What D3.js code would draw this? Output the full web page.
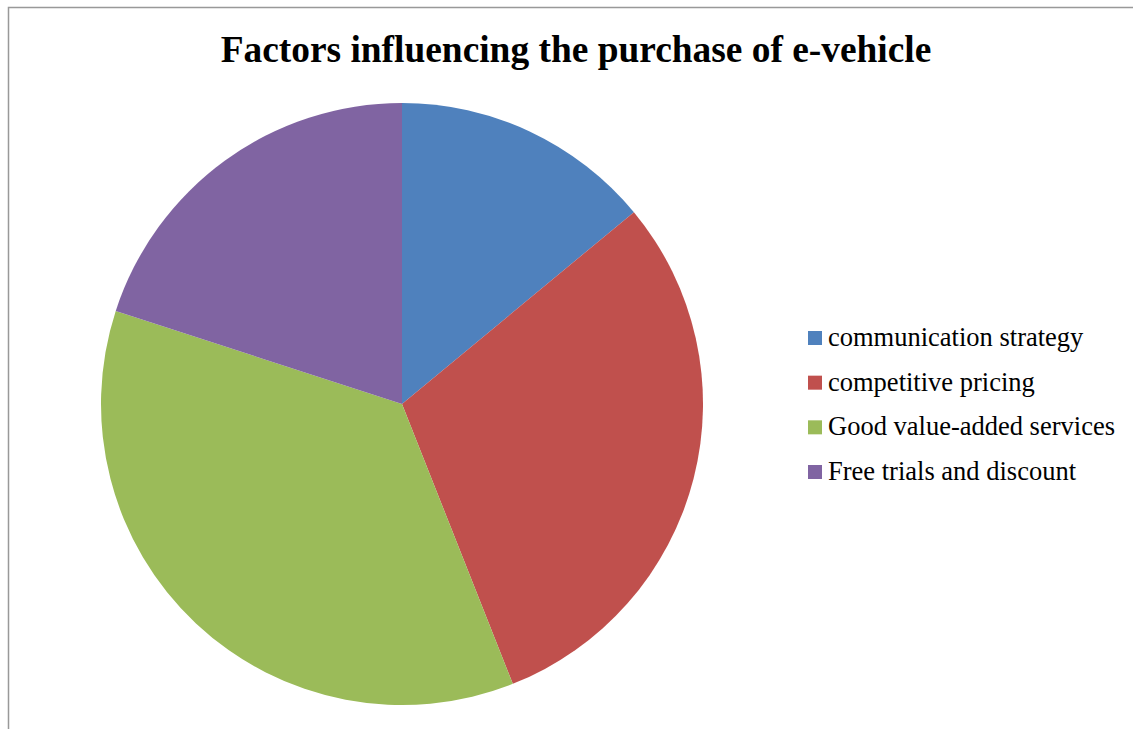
<!DOCTYPE html>
<html>
<head>
<meta charset="utf-8">
<script src="https://cdn.jsdelivr.net/npm/d3@7"></script>
<style>
  html, body { margin: 0; padding: 0; background: #fff; }
  svg { display: block; }
</style>
</head>
<body>
<svg id="chart" width="1133" height="729"></svg>
<script>
// Survey shares (percent) of each purchase factor
const categories = ["communication strategy", "competitive pricing", "Good value-added services", "Free trials and discount"];
const shares = [14, 30, 36, 20];
const colors = ["#4F81BD", "#C0504D", "#9BBB59", "#8064A2"];
const title = "Factors influencing the purchase of e-vehicle";

const svg = d3.select("#chart");
const W = 1133, H = 729;

// chart area frame
svg.append("path")
  .attr("d", `M8.5,${H} L8.5,7.5 L${W},7.5`)
  .attr("fill", "none")
  .attr("stroke", "#999")
  .attr("stroke-width", 1.5);

svg.append("text")
  .attr("x", 576)
  .attr("y", 62)
  .attr("text-anchor", "middle")
  .attr("font-family", "'Liberation Serif', 'Times New Roman', serif")
  .attr("font-weight", "bold")
  .attr("font-size", 37.4)
  .attr("fill", "#000")
  .text(title);

const data = categories.map((c, i) => ({ name: c, value: shares[i], color: colors[i] }));

const pie = d3.pie().sort(null).value(d => d.value);
const arc = d3.arc().innerRadius(0).outerRadius(301);

const g = svg.append("g").attr("transform", "translate(402,404)");
g.selectAll("path.slice")
  .data(pie(data))
  .join("path")
  .attr("class", "slice")
  .attr("d", arc)
  .attr("fill", d => d.data.color);

// legend
const legendY = d3.scalePoint().domain(categories).range([338, 472]);
const legend = svg.append("g");
const items = legend.selectAll("g.item")
  .data(data)
  .join("g")
  .attr("class", "item")
  .attr("transform", d => `translate(808,${legendY(d.name)})`);

items.append("rect")
  .attr("x", 0)
  .attr("y", -7)
  .attr("width", 14)
  .attr("height", 14)
  .attr("fill", d => d.color);

items.append("text")
  .attr("x", 20)
  .attr("y", 8)
  .attr("font-family", "'Liberation Serif', 'Times New Roman', serif")
  .attr("font-size", 26.5)
  .attr("fill", "#000")
  .text(d => d.name);
</script>
</body>
</html>
